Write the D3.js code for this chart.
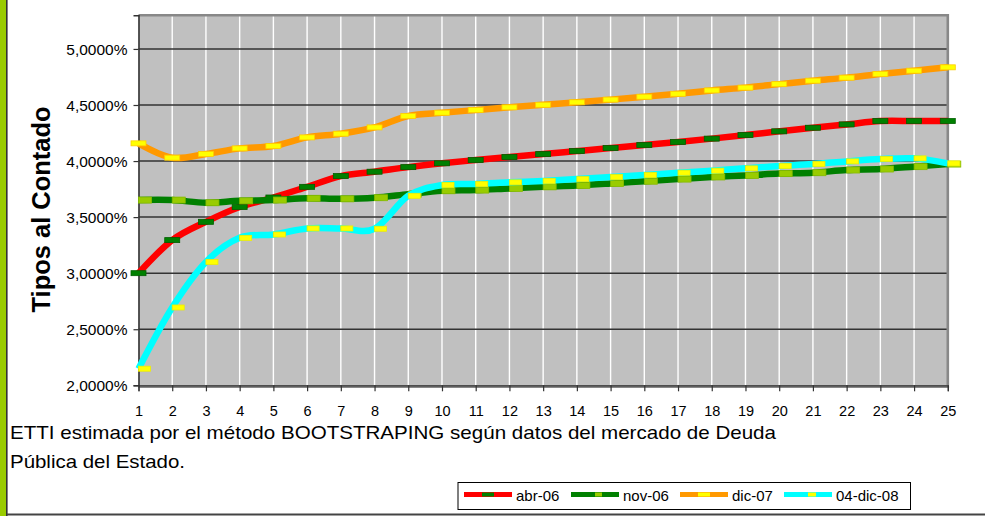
<!DOCTYPE html>
<html><head><meta charset="utf-8">
<script src="https://cdn.jsdelivr.net/npm/d3@7"></script>
<style>
html,body{margin:0;padding:0;background:#fff;}
svg{display:block;font-family:"Liberation Sans",Arial,sans-serif;}
</style></head>
<body>
<svg id="chart" width="985" height="516"></svg>
<script>
const categories = d3.range(1, 26);
const yTicks = [2.0, 2.5, 3.0, 3.5, 4.0, 4.5, 5.0];
const seriesNames = ["abr-06", "nov-06", "dic-07", "04-dic-08"];
const abr06 = [3.00, 3.295, 3.458, 3.59, 3.675, 3.77, 3.866, 3.905, 3.946, 3.98, 4.009, 4.036, 4.062, 4.089, 4.116, 4.143, 4.17, 4.20, 4.232, 4.265, 4.297, 4.327, 4.357, 4.357, 4.357];
const nov06 = [3.652, 3.652, 3.628, 3.645, 3.652, 3.668, 3.663, 3.673, 3.705, 3.735, 3.741, 3.756, 3.77, 3.782, 3.80, 3.82, 3.839, 3.858, 3.872, 3.888, 3.896, 3.92, 3.929, 3.95, 3.973];
const dic07 = [4.158, 4.03, 4.063, 4.113, 4.134, 4.211, 4.244, 4.30, 4.402, 4.431, 4.455, 4.479, 4.502, 4.524, 4.548, 4.574, 4.60, 4.63, 4.655, 4.686, 4.717, 4.744, 4.777, 4.806, 4.836];
const dic08 = [2.148, 2.694, 3.10, 3.315, 3.345, 3.399, 3.399, 3.396, 3.69, 3.786, 3.795, 3.81, 3.823, 3.839, 3.857, 3.875, 3.896, 3.914, 3.935, 3.955, 3.973, 3.997, 4.018, 4.024, 3.979];
const caption1 = "ETTI estimada por el método BOOTSTRAPING según datos del mercado de Deuda";
const caption2 = "Pública del Estado.";
const yTitle = "Tipos al Contado";

const styles = [
  {line:"#FF0000", mark:"#008000", mstroke:"#006000", w:15, h:5, off:0, lw:12, lh:4},
  {line:"#008000", mark:"#99CC00", mstroke:"#88BB00", w:13, h:6, off:1, lw:7, lh:4},
  {line:"#FF9900", mark:"#FFFF00", mstroke:"#FFCC00", w:15, h:5, off:0, lw:12, lh:4},
  {line:"#00FFFF", mark:"#FFFF00", mstroke:"#EEEE00", w:12, h:5, off:1, lw:8, lh:4}
];
const data = [abr06, nov06, dic07, dic08];

const svg = d3.select("#chart");
const L = 138.5, R = 947.8, T = 15.3, B = 385.3;
const x = d3.scaleLinear().domain([1, 25]).range([L, R]);
const y = d3.scaleLinear().domain([2, 5.3]).range([B, T]);

// left green bar and bottom line
svg.append("rect").attr("x",0).attr("y",0).attr("width",6).attr("height",516).attr("fill","#99CC00");
svg.append("rect").attr("x",6).attr("y",0).attr("width",1.6).attr("height",516).attr("fill","#333");
svg.append("rect").attr("x",7).attr("y",513.5).attr("width",978).attr("height",2).attr("fill","#444");

// plot area
svg.append("rect").attr("x",L).attr("y",T).attr("width",R-L).attr("height",B-T).attr("fill","#C0C0C0");

// vertical white gridlines
svg.append("g").selectAll("line").data(categories.slice(1, -1)).join("line")
  .attr("x1", d=>x(d)).attr("x2", d=>x(d)).attr("y1", T).attr("y2", B)
  .attr("stroke", "#fff").attr("stroke-width", 1.4);

// horizontal gridlines
svg.append("g").selectAll("line").data(yTicks.slice(1)).join("line")
  .attr("x1", L).attr("x2", R).attr("y1", d=>y(d)).attr("y2", d=>y(d))
  .attr("stroke", "#333").attr("stroke-width", 1.5);

// border (gray)
svg.append("path").attr("d", `M${L},${T}H${R}V${B}`).attr("fill","none")
  .attr("stroke","#888").attr("stroke-width",2.6);
svg.append("line").attr("x1",L).attr("x2",R+1.3).attr("y1",B+1.3).attr("y2",B+1.3)
  .attr("stroke","#888").attr("stroke-width",2.6);

// axes
const yAxis = d3.axisLeft(y).tickValues(yTicks).tickSize(5).tickPadding(6)
  .tickFormat(d => d3.format(".4f")(d).replace(".", ",") + "%");
const gy = svg.append("g").attr("transform", `translate(${L},0)`).call(yAxis);
gy.select(".domain").attr("stroke","#333").attr("stroke-width",1.6);
gy.selectAll(".tick line").attr("stroke","#333").attr("stroke-width",1.2);
gy.selectAll(".tick text").attr("font-size","15.5px").attr("fill","#000")
  .attr("font-family",'"Liberation Sans",Arial,sans-serif').attr("dy","0.36em");

const xAxis = d3.axisBottom(x).tickValues(categories).tickSize(6).tickPadding(14).tickFormat(d3.format("d"));
const gx = svg.append("g").attr("transform", `translate(0,${B})`).call(xAxis);
gx.select(".domain").attr("stroke","#333").attr("stroke-width",1.2);
gx.selectAll(".tick line").attr("stroke","#333").attr("stroke-width",1.2);
gx.selectAll(".tick text").attr("font-size","14.5px").attr("fill","#000")
  .attr("font-family",'"Liberation Sans",Arial,sans-serif');

// series
const line = d3.line().x((d,i)=>x(categories[i])).y(d=>y(d)).curve(d3.curveCatmullRom.alpha(0));
data.forEach((vals, si) => {
  const s = styles[si];
  const g = svg.append("g");
  g.append("path").attr("d", line(vals)).attr("fill","none").attr("stroke", s.line)
    .attr("stroke-width", 6.5).attr("stroke-linejoin","round");
  g.selectAll("rect").data(vals).join("rect")
    .attr("x", (d,i)=> x(categories[i]) - (s.off ? 0 : s.w/2))
    .attr("y", d=> y(d) - s.h/2)
    .attr("width", s.w).attr("height", s.h)
    .attr("fill", s.mark).attr("stroke", s.mstroke).attr("stroke-width", 0.8);
});

// y title
svg.append("text").attr("transform","translate(49.5,209.5) rotate(-90)")
  .attr("text-anchor","middle").attr("font-size","25px").attr("font-weight","bold")
  .attr("fill","#000").attr("textLength",206).attr("lengthAdjust","spacingAndGlyphs").text(yTitle);

// caption
svg.append("text").attr("x",10).attr("y",438.5).attr("font-size","19px").attr("fill","#000")
  .attr("textLength",766).attr("lengthAdjust","spacingAndGlyphs").text(caption1);
svg.append("text").attr("x",10).attr("y",467.5).attr("font-size","19px").attr("fill","#000")
  .attr("textLength",175).attr("lengthAdjust","spacingAndGlyphs").text(caption2);

// legend
const lg = svg.append("g");
lg.append("rect").attr("x",458).attr("y",482.5).attr("width",452.5).attr("height",27)
  .attr("fill","#fff").attr("stroke","#000").attr("stroke-width",1);
const legX = [464, 571, 680, 784];
seriesNames.forEach((name, i) => {
  const s = styles[i];
  const x0 = legX[i], cy = 494.5;
  lg.append("line").attr("x1",x0).attr("x2",x0+48).attr("y1",cy).attr("y2",cy)
    .attr("stroke", s.line).attr("stroke-width",5);
  lg.append("rect").attr("x", s.off ? x0+24 : x0+24-s.lw/2).attr("y", cy-s.lh/2)
    .attr("width", s.lw).attr("height", s.lh).attr("fill", s.mark);
  lg.append("text").attr("x", x0+52).attr("y", 501).attr("font-size","15px").attr("fill","#000").text(name);
});
</script>
</body></html>
